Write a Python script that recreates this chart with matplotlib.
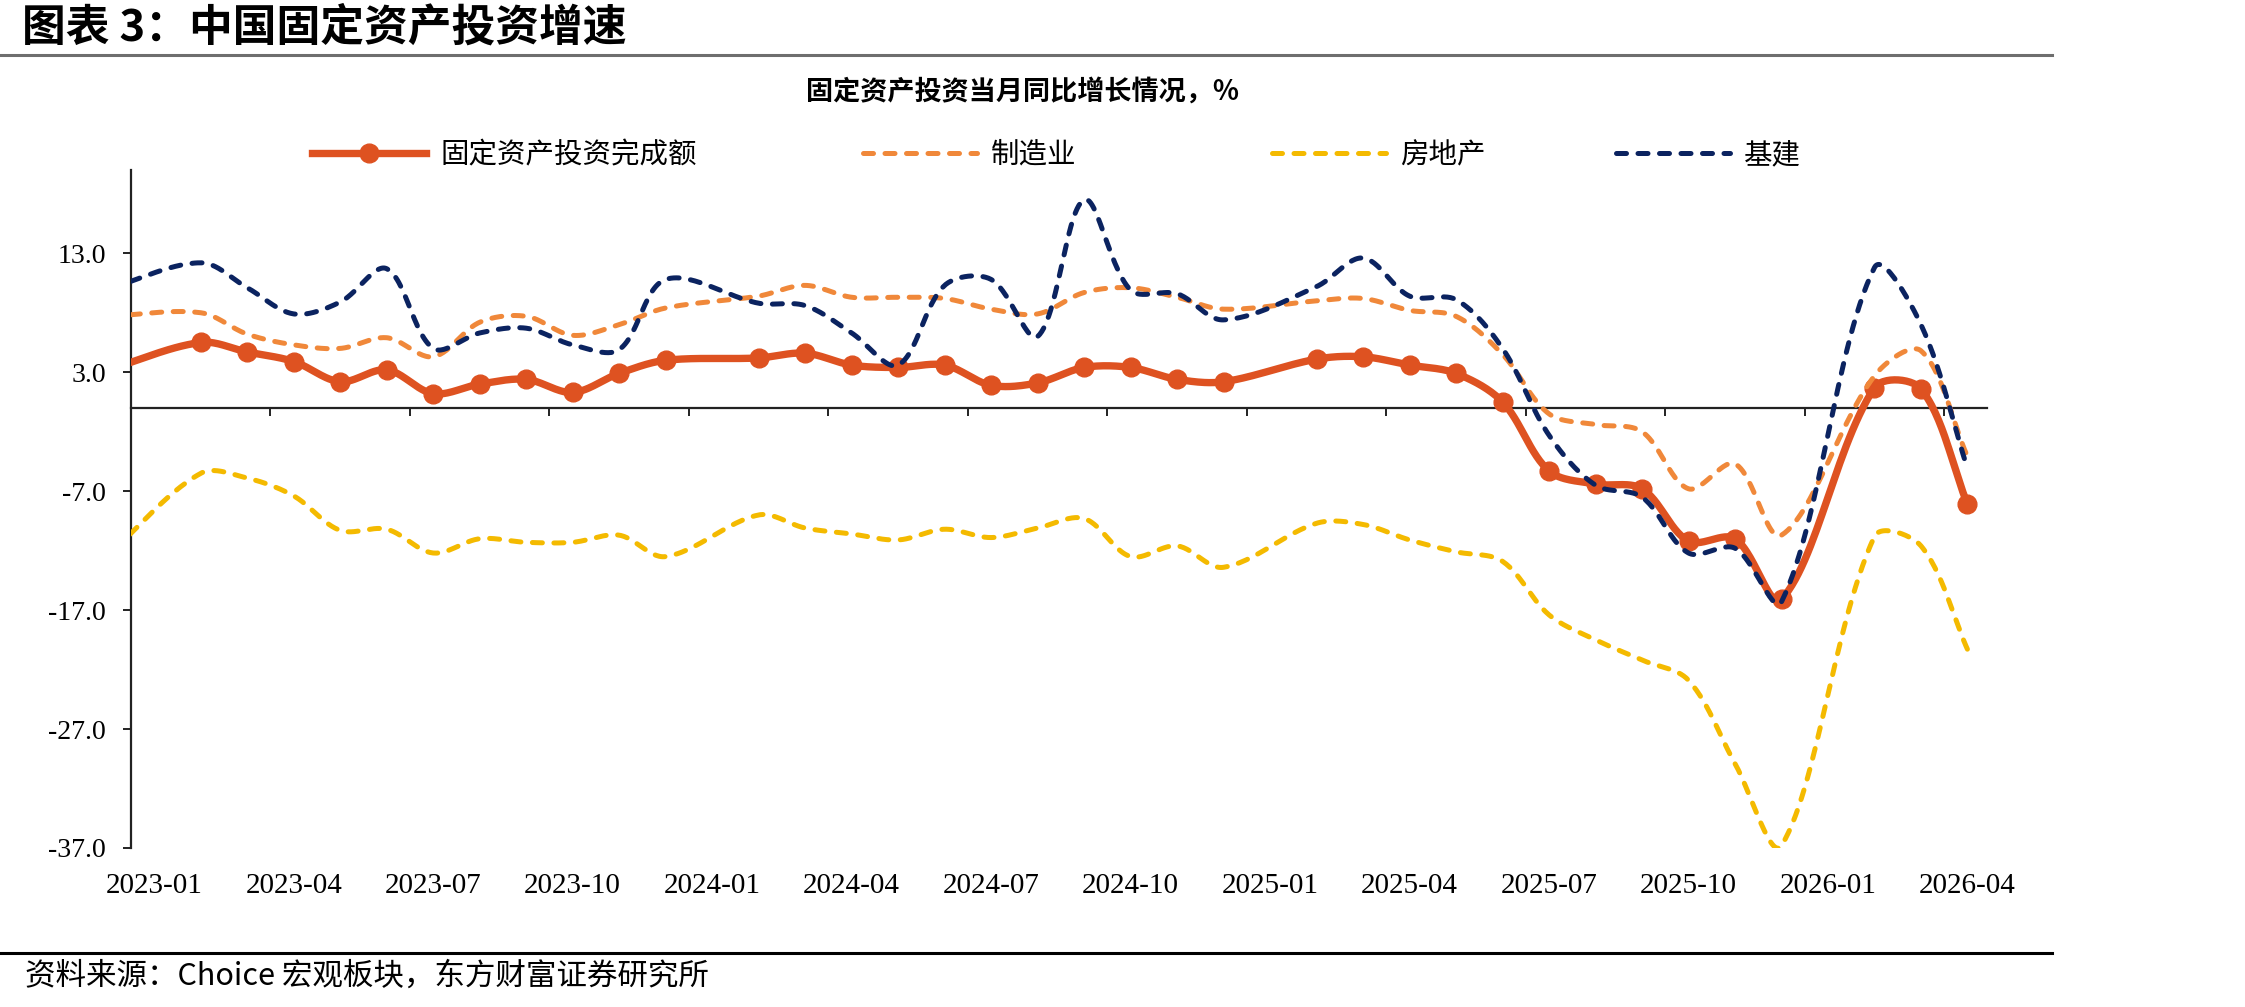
import numpy as np
import matplotlib
matplotlib.use("Agg")
import matplotlib.pyplot as plt
from matplotlib.lines import Line2D

CJK = ["Noto Sans CJK SC", "DejaVu Sans"]
SERIF = ["Liberation Serif", "DejaVu Serif"]

# 月份（1月数据缺失，1-2月合并发布）
months = ["2022-12",
          "2023-02", "2023-03", "2023-04", "2023-05", "2023-06", "2023-07",
          "2023-08", "2023-09", "2023-10", "2023-11", "2023-12",
          "2024-02", "2024-03", "2024-04", "2024-05", "2024-06", "2024-07",
          "2024-08", "2024-09", "2024-10", "2024-11", "2024-12",
          "2025-02", "2025-03", "2025-04", "2025-05", "2025-06", "2025-07",
          "2025-08", "2025-09", "2025-10", "2025-11", "2025-12",
          "2026-02", "2026-03", "2026-04"]

fai = [3.2,
       5.5, 4.7, 3.9, 2.2, 3.2, 1.2, 2.0, 2.4, 1.3, 2.9, 4.0,
       4.2, 4.6, 3.6, 3.4, 3.6, 1.9, 2.1, 3.4, 3.4, 2.4, 2.2,
       4.1, 4.3, 3.6, 2.9, 0.5, -5.3, -6.4, -6.8, -11.2, -11.0, -16.1,
       1.7, 1.6, -8.1]

mfg = [7.7,
       8.0, 6.2, 5.3, 5.0, 5.9, 4.3, 7.2, 7.7, 6.1, 7.0, 8.4,
       9.4, 10.3, 9.3, 9.3, 9.2, 8.3, 7.9, 9.7, 10.1, 9.3, 8.3,
       9.0, 9.2, 8.2, 7.7, 4.5, -0.5, -1.4, -2.0, -6.8, -4.7, -10.7,
       2.7, 4.8, -4.1]

realestate = [-12.4,
              -5.5, -5.9, -7.4, -10.3, -10.2, -12.2, -11.0, -11.3, -11.3, -10.7, -12.5,
              -9.0, -10.1, -10.6, -11.1, -10.2, -10.9, -10.1, -9.3, -12.5, -11.6, -13.4,
              -9.7, -9.8, -11.1, -12.1, -12.9, -17.4, -19.5, -21.2, -22.9, -29.9, -36.8,
              -10.8, -11.6, -20.3]

infra = [10.0,
         12.2, 10.1, 7.9, 8.9, 11.7, 5.0, 6.3, 6.7, 5.3, 4.9, 10.8,
         8.8, 8.6, 6.3, 3.6, 10.3, 10.8, 6.0, 17.5, 9.9, 9.6, 7.4,
         10.2, 12.6, 9.4, 9.1, 5.0, -2.3, -6.5, -7.5, -12.2, -11.8, -16.3,
         11.8, 7.0, -5.1]

xlabels = ["2023-01", "2023-04", "2023-07", "2023-10", "2024-01", "2024-04",
           "2024-07", "2024-10", "2025-01", "2025-04", "2025-07", "2025-10",
           "2026-01", "2026-04"]
yticks = [-37, -27, -17, -7, 3, 13]


def month_index(s):
    return (int(s[:4]) - 2023) * 12 + int(s[5:7]) - 1


def smooth(xs, ys, n=30, kx=46.5, ky=11.9):
    # 平滑线：按弦长加权的贝塞尔曲线，在像素尺度下计算
    P = np.column_stack([np.asarray(xs, float) * kx, np.asarray(ys, float) * ky])
    m = len(P)
    d = np.linalg.norm(np.diff(P, axis=0), axis=1)
    t = np.linspace(0, 1, n)[:, None]
    out = []
    for k in range(m - 1):
        p1, p2 = P[k], P[k + 1]
        if k == 0:
            c1 = p1 + (p2 - p1) / 3
        else:
            c1 = p1 + (P[k + 1] - P[k - 1]) * d[k] / (d[k - 1] + d[k]) / 3
        if k + 2 >= m:
            c2 = p2 - (p2 - p1) / 3
        else:
            c2 = p2 - (P[k + 2] - P[k]) * d[k] / (d[k] + d[k + 1]) / 3
        seg = (1 - t) ** 3 * p1 + 3 * (1 - t) ** 2 * t * c1 + 3 * (1 - t) * t ** 2 * c2 + t ** 3 * p2
        out.append(seg if k == 0 else seg[1:])
    s = np.vstack(out)
    return s[:, 0] / kx, s[:, 1] / ky


x = np.array([month_index(m) for m in months])
xl = [month_index(m) for m in xlabels]

W, H = 2245, 1007
fig = plt.figure(figsize=(W / 100, H / 100), dpi=100)
ax = fig.add_axes([131 / W, 1 - 848 / H, (1987 - 131) / W, (848 - 170) / H])

c_fai = "#DE5221"
c_mfg = "#F0883A"
c_re = "#F4BA00"
c_inf = "#0B2360"

sx, sy = smooth(x, fai)
ax.plot(sx, sy, color=c_fai, lw=5.3, solid_capstyle="round", zorder=3)
ax.plot(x, fai, "o", color=c_fai, ms=13.5, zorder=3)

dash = dict(lw=3.6, dashes=(2.0, 2.3), dash_capstyle="round")
sx, sy = smooth(x, mfg)
ax.plot(sx, sy, color=c_mfg, zorder=4, **dash)
sx, sy = smooth(x, realestate)
ax.plot(sx, sy, color=c_re, zorder=5, **dash)
sx, sy = smooth(x, infra)
ax.plot(sx, sy, color=c_inf, zorder=6, **dash)

ax.set_xlim(-0.5, 39.42)
ax.set_ylim(-37, 20)

for s in ["top", "right"]:
    ax.spines[s].set_visible(False)
ax.spines["bottom"].set_position(("data", 0))
ax.spines["bottom"].set_linewidth(1.6)
ax.spines["left"].set_linewidth(1.6)
ax.spines["bottom"].set_color("#222222")
ax.spines["left"].set_color("#222222")

ax.set_xticks(np.arange(-0.5, 39, 3))
ax.tick_params(axis="x", labelbottom=False, direction="out", length=6, width=1.4, color="#222222")
ax.set_yticks(yticks)
ax.set_yticklabels([f"{v:.1f}" for v in yticks])
ax.tick_params(axis="y", direction="out", length=6, width=1.4, pad=12, labelsize=20, color="#222222")
for lab in ax.get_yticklabels():
    lab.set_fontfamily(SERIF)

sec = ax.secondary_xaxis("bottom")
sec.spines["bottom"].set_visible(False)
sec.set_xticks(xl)
sec.set_xticklabels(xlabels)
sec.tick_params(axis="x", length=0, pad=18, labelsize=21)
for lab in sec.get_xticklabels():
    lab.set_fontfamily(SERIF)

# 图例
leg_items = [
    (Line2D([], [], color=c_fai, lw=5.3, marker="o", ms=13.5), "固定资产投资完成额", 312),
    (Line2D([], [], color=c_mfg, **dash), "制造业", 863),
    (Line2D([], [], color=c_re, **dash), "房地产", 1272),
    (Line2D([], [], color=c_inf, **dash), "基建", 1616),
]
for h, lab, x0 in leg_items:
    fig.legend([h], [lab], loc="center left", bbox_to_anchor=(x0 / W, 1 - 155 / H),
               frameon=False, borderpad=0, borderaxespad=0, handlelength=4.0,
               handletextpad=0.5, numpoints=1, prop={"family": CJK, "size": 20.5})

# 标题与注释
fig.text(22 / W, 1 - 28 / H, "图表 3：中国固定资产投资增速", fontsize=31.5,
         fontweight="bold", family=CJK, va="center", ha="left")
fig.add_artist(Line2D([0, 2052 / W], [1 - 55 / H, 1 - 55 / H], color="#6e6e6e", lw=2.2))
fig.text(1023 / W, 1 - 92 / H, "固定资产投资当月同比增长情况，%", fontsize=19.5,
         fontweight="bold", family=CJK, va="center", ha="center")
fig.add_artist(Line2D([0, 2052 / W], [1 - 953 / H, 1 - 953 / H], color="black", lw=2.2))
fig.text(25 / W, 1 - 976 / H, "资料来源：Choice 宏观板块，东方财富证券研究所", fontsize=22,
         family=CJK, va="center", ha="left")

fig.savefig("out.png", dpi=100, facecolor="white")
